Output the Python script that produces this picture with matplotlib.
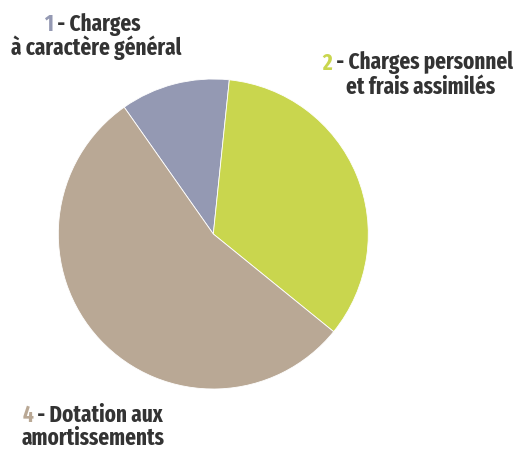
import matplotlib
matplotlib.use("Agg")
import matplotlib.pyplot as plt

labels = ["Charges à caractère général", "Charges personnel et frais assimilés", "Dotation aux amortissements"]
numbers = ["1", "2", "4"]
values = [11.4, 34.2, 54.4]
colors = ["#9499b3", "#c9d64e", "#b9a895"]

text_color = "#333333"
font = ["Fira Sans Extra Condensed", "DejaVu Sans"]

fig = plt.figure(figsize=(5.13, 4.51), dpi=100)
ax = fig.add_axes([(213.3 - 155) / 513, 1 - (234 + 155) / 451, 310 / 513, 310 / 451])
ax.pie(values, colors=colors, startangle=125.1, counterclock=False,
       wedgeprops=dict(linewidth=0.6, edgecolor="white"))
ax.set_xlim(-1, 1)
ax.set_ylim(-1, 1)
ax.axis("off")

renderer = fig.canvas.get_renderer()
kw = dict(fontsize=16.5, fontweight="bold", family=font, va="baseline")


def colored_line(x, y, num, rest, num_color):
    # centre "num rest" on x, number drawn in the slice colour
    t_full = fig.text(0, 0, num + rest, **kw)
    w_full = t_full.get_window_extent(renderer).width
    t_full.remove()
    t_num = fig.text(0, 0, num, **kw)
    w_num = t_num.get_window_extent(renderer).width
    t_num.remove()
    x0 = x - w_full / 2
    fig.text(x0 / 513, 1 - y / 451, num, color=num_color, ha="left", **kw)
    fig.text((x0 + w_num) / 513, 1 - y / 451, rest, color=text_color, ha="left", **kw)


def plain_line(x, y, s):
    fig.text(x / 513, 1 - y / 451, s, color=text_color, ha="center", **kw)


colored_line(92.5, 31, numbers[0], " - Charges", colors[0])
plain_line(96.5, 55, "à caractère général")
colored_line(418, 69.5, numbers[1], " - Charges personnel", colors[1])
plain_line(421, 93.5, "et frais assimilés")
colored_line(92.5, 421.5, numbers[2], " - Dotation aux", colors[2])
plain_line(93.3, 445, "amortissements")

fig.savefig("out.png", dpi=100)
